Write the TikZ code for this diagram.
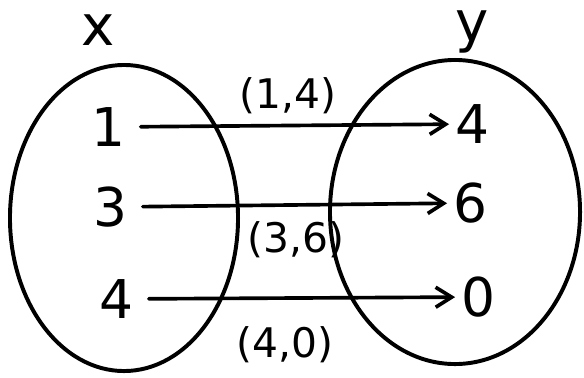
\documentclass[tikz,border=0pt]{standalone}
\usepackage{fontspec}
\setmainfont{DejaVu Sans}
\usetikzlibrary{arrows.meta,positioning,shapes.geometric}

\begin{document}
\begin{tikzpicture}[
        x=0.025cm, y=-0.025cm,
        >={Straight Barb[length=4mm,width=5mm,line width=2.6pt]},
        setbox/.style={draw=black, ellipse, line width=2.8pt, inner sep=0pt},
        elem/.style={font=\fontsize{38}{42}\selectfont, inner sep=2pt},
        setname/.style={font=\fontsize{40}{44}\selectfont, inner sep=0pt},
        pair/.style={font=\fontsize{29}{33}\selectfont, inner sep=0pt},
        link/.style={draw=black, line width=2.6pt, line cap=round, ->, shorten <=9pt, shorten >=2pt}
    ]
        \useasboundingbox (0,0) rectangle (584,377);

        \node[setbox, minimum width=5.7cm, minimum height=7.65cm] (xset) at (124,218) {};
        \node[setbox, minimum width=6.25cm, minimum height=7.6cm] (yset) at (455,212) {};
        \node[setname] (xlab) at (98,30) {x};
        \node[setname] (ylab) at (472,32) {y};

        \node[elem] (x1) at (108,127) {1};
        \node[elem] (x3) at (110,207) {3};
        \node[elem] (x4) at (116,299) {4};
        \node[elem] (y4) at (472,124) {4};
        \node[elem] (y6) at (470,203) {6};
        \node[elem] (y0) at (478,297) {0};

        \draw[link] (x1) -- (y4);
        \draw[link] (x3) -- (y6);
        \draw[link] (x4) -- (y0);

        \node[pair] (p14) at (288,96) {(1,4)};
        \node[pair] (p36) at (296,240) {(3,6)};
        \node[pair] (p40) at (285,345) {(4,0)};
    \end{tikzpicture}
\end{document}
